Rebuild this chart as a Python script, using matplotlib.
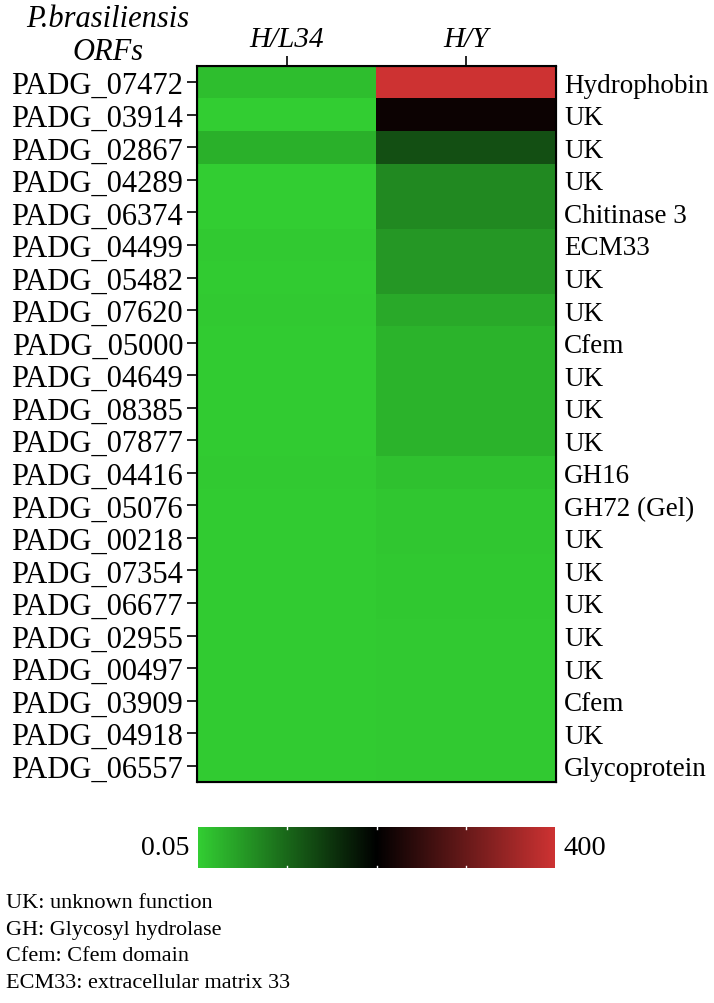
import numpy as np
import matplotlib
matplotlib.use("Agg")
import matplotlib.pyplot as plt
from matplotlib.colors import LinearSegmentedColormap, LogNorm

plt.rcParams['font.family'] = ['Liberation Serif', 'DejaVu Serif']

orfs = ["PADG_07472", "PADG_03914", "PADG_02867", "PADG_04289", "PADG_06374",
        "PADG_04499", "PADG_05482", "PADG_07620", "PADG_05000", "PADG_04649",
        "PADG_08385", "PADG_07877", "PADG_04416", "PADG_05076", "PADG_00218",
        "PADG_07354", "PADG_06677", "PADG_02955", "PADG_00497", "PADG_03909",
        "PADG_04918", "PADG_06557"]
functions = ["Hydrophobin", "UK", "UK", "UK", "Chitinase 3", "ECM33", "UK", "UK",
             "Cfem", "UK", "UK", "UK", "GH16", "GH72 (Gel)", "UK", "UK", "UK",
             "UK", "UK", "Cfem", "UK", "Glycoprotein"]
conditions = ["H/L34", "H/Y"]

h_l34 = [0.07, 0.05, 0.096, 0.05, 0.05, 0.055, 0.052, 0.055, 0.052, 0.052, 0.052,
         0.052, 0.055, 0.053, 0.052, 0.052, 0.052, 0.052, 0.053, 0.052, 0.052, 0.052]
h_y = [400, 5.8, 0.78, 0.22, 0.22, 0.16, 0.16, 0.11, 0.09, 0.09, 0.09, 0.09,
       0.065, 0.058, 0.058, 0.056, 0.056, 0.055, 0.055, 0.055, 0.055, 0.055]

vmin, vmax = 0.05, 400
legend_lines = ["UK: unknown function", "GH: Glycosyl hydrolase",
                "Cfem: Cfem domain", "ECM33: extracellular matrix 33"]

cmap = LinearSegmentedColormap.from_list(
    "gbr", [(50/255, 205/255, 50/255), (0, 0, 0), (205/255, 50/255, 50/255)])
norm = LogNorm(vmin=vmin, vmax=vmax)

data = np.array([h_l34, h_y]).T

fig = plt.figure(figsize=(7.14, 10.04), dpi=100)
ax = fig.add_axes([197/714, 1 - 783/1004, 359/714, 716/1004])
im = ax.imshow(data, cmap=cmap, norm=norm, aspect="auto", interpolation="nearest")

ax.set_yticks(range(len(orfs)))
ax.set_yticklabels(orfs, fontsize=22)
ax.set_xticks(range(len(conditions)))
ax.set_xticklabels(conditions, fontsize=21, style="italic")
ax.xaxis.tick_top()
ax.tick_params(axis="both", length=7, width=1.2, color="black", pad=3)
for s in ax.spines.values():
    s.set_linewidth(1.5)

ax2 = ax.twinx()
ax2.set_ylim(ax.get_ylim())
ax2.set_yticks(range(len(functions)))
ax2.set_yticklabels(functions, fontsize=19.5)
ax2.tick_params(axis="y", length=0, pad=6)

fig.text(108/714, 1 - 36/1004, "P.brasiliensis\nORFs", ha="center", va="center",
         fontsize=22, style="italic", linespacing=1.15)

cax = fig.add_axes([198/714, 1 - 869/1004, 357/714, 41/1004])
cb = fig.colorbar(im, cax=cax, orientation="horizontal")
cb.outline.set_visible(False)
cax.set_xticks([])
cax.minorticks_off()
cax.tick_params(which="both", length=0)
cax.set_xticklabels([])
for f in [0.25, 0.5, 0.75]:
    cax.plot([f, f], [0, 0.06], transform=cax.transAxes, color="white", lw=1)
    cax.plot([f, f], [0.94, 1], transform=cax.transAxes, color="white", lw=1)
cax.text(-0.025, 0.5, "0.05", transform=cax.transAxes, ha="right", va="center", fontsize=20)
cax.text(1.025, 0.5, "400", transform=cax.transAxes, ha="left", va="center", fontsize=20.5)

for i, line in enumerate(legend_lines):
    fig.text(6/714, 1 - (904 + 26.5 * i)/1004, line, ha="left", va="center", fontsize=16)

fig.savefig("out.png", dpi=100)
